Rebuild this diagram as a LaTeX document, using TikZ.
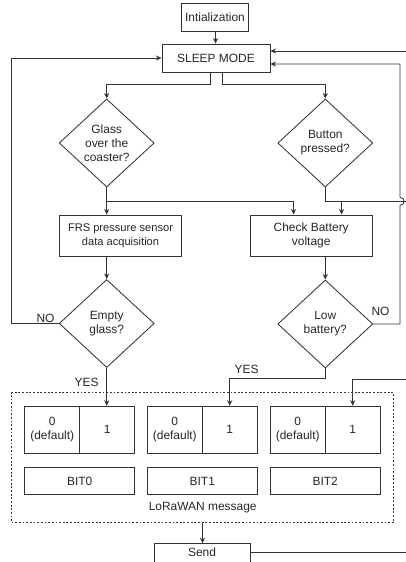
\documentclass[tikz,border=0pt]{standalone}
\usepackage{fontspec}
\setmainfont{Liberation Sans}
\usetikzlibrary{arrows.meta,shapes.geometric,calc}

\begin{document}
\begin{tikzpicture}[x=0.025cm, y=0.025cm,
 every node/.style={font=\fontsize{8.5}{10}\selectfont, text=black!85, align=center},
 box/.style={rectangle, draw=black!80, line width=0.6pt, inner sep=1pt},
 cond/.style={diamond, draw=black!80, line width=0.6pt, inner sep=0pt, minimum width=2.375cm, minimum height=2.2cm},
 cell/.style={box, minimum width=1.375cm, minimum height=1.175cm},
 bitbox/.style={box, minimum width=2.75cm, minimum height=0.69cm},
 wire/.style={draw=black!80, line width=0.6pt},
 arr/.style={wire, -{Stealth[length=4pt,width=3.6pt]}}]
 \useasboundingbox (0,0) rectangle (406,-562);
 \clip (0,0) rectangle (406,-562);

 % main flow
 \node[box, minimum width=1.675cm, minimum height=0.7cm] (init) at (215,-17) {Intialization};
 \node[box, minimum width=2.7cm, minimum height=0.7cm] (sleep) at (216,-58) {SLEEP MODE};
 \node[cond] (glass) at (106.7,-143) {Glass\\over the\\coaster?};
 \node[cond] (button) at (325.3,-143) {Button\\pressed?};
 \node[box, minimum width=3.05cm, minimum height=1.025cm, font=\fontsize{7.9}{10}\selectfont] (frs) at (120.5,-235.5) {FRS pressure sensor\\data acquisition};
 \node[box, minimum width=3.05cm, minimum height=1.025cm] (check) at (311.2,-235.5) {Check Battery\\voltage};
 \node[cond] (empty) at (106.7,-323.5) {Empty\\glass?};
 \node[cond] (lowbat) at (325.3,-324) {Low\\battery?};

 % message bits
 \node[draw=black!80, line width=0.5pt, dash pattern=on 1.3pt off 1.3pt, minimum width=9.54cm, minimum height=3.25cm] (msg) at (202.5,-457.7) {};
 \node[cell] (zero0) at (52.2,-429.7) {0\\(default)};
 \node[cell] (one0) at (107.2,-429.7) {1};
 \node[cell] (zero1) at (174.8,-429.7) {0\\(default)};
 \node[cell] (one1) at (229.8,-429.7) {1};
 \node[cell] (zero2) at (297.7,-429.7) {0\\(default)};
 \node[cell] (one2) at (352.7,-429.7) {1};
 \node[bitbox] (bit0) at (79.7,-481) {BIT0};
 \node[bitbox] (bit1) at (202.3,-481) {BIT1};
 \node[bitbox] (bit2) at (325.2,-481) {BIT2};
 \node (msglabel) at (202.7,-508) {LoRaWAN message};
 \node[box, anchor=north, minimum width=2.4cm, text height=6.2pt, text depth=0.6cm, inner ysep=3pt] (send) at (202,-543.3) {Send};

 % labels
 \node (no1) at (45.5,-318) {NO};
 \node (no2) at (380.5,-311) {NO};
 \node (yes1) at (86.7,-382.5) {YES};
 \node (yes2) at (246.7,-369.5) {YES};

 % loose ends
 \coordinate (gsplit) at (106.7,-201.3);
 \coordinate (bsplit) at (325.3,-201.3);
 \coordinate (bout) at (406,-201.3);
 \coordinate (rjump) at (400,-201.3);
 \coordinate (topin) at (406,-51);
 \coordinate (bitin) at (406,-379.3);
 \coordinate (sendout) at (406,-552.7);

 \draw[arr] (init) -- (sleep);
 \draw[arr] ([xshift=-0.15cm]sleep.south) -- ++(0,-12.3) -| (glass.north);
 \draw[arr] ([xshift=0.17cm]sleep.south) -- ++(0,-12.3) -| (button.north);
 \draw[arr] (glass.south) -- (frs.north -| glass);
 \draw[arr] (gsplit) -| ([xshift=-0.44cm]check.north);
 \draw[wire] (button.south) |- (bout);
 \draw[arr] (bsplit) -| ([xshift=0.76cm]check.north);
 \draw[arr] (frs.south -| empty) -- (empty.north);
 \draw[arr] (check.south -| lowbat) -- (lowbat.north);
 \draw[arr] (empty.west) -- ++(-47.3,0) |- (sleep.west);
 \draw[arr] (lowbat.east) -| ($(rjump)+(0,-4)$) .. controls +(5.5,0) and +(5.5,0) .. ($(rjump)+(0,4)$) |- ([yshift=-0.15cm]sleep.east);
 \draw[arr] (topin) -- (topin -| sleep.east);
 \draw[arr] (empty.south) -- (empty.south |- one0.north);
 \draw[arr] (lowbat.south) -- ++(0,-10.3) -| (one1.north);
 \draw[arr] (bitin) -| (one2.north);
 \draw[arr] (msg.south) -- (msg.south |- send.north);
 \draw[wire] (sendout -| send.east) -- (sendout);
\end{tikzpicture}
\end{document}
